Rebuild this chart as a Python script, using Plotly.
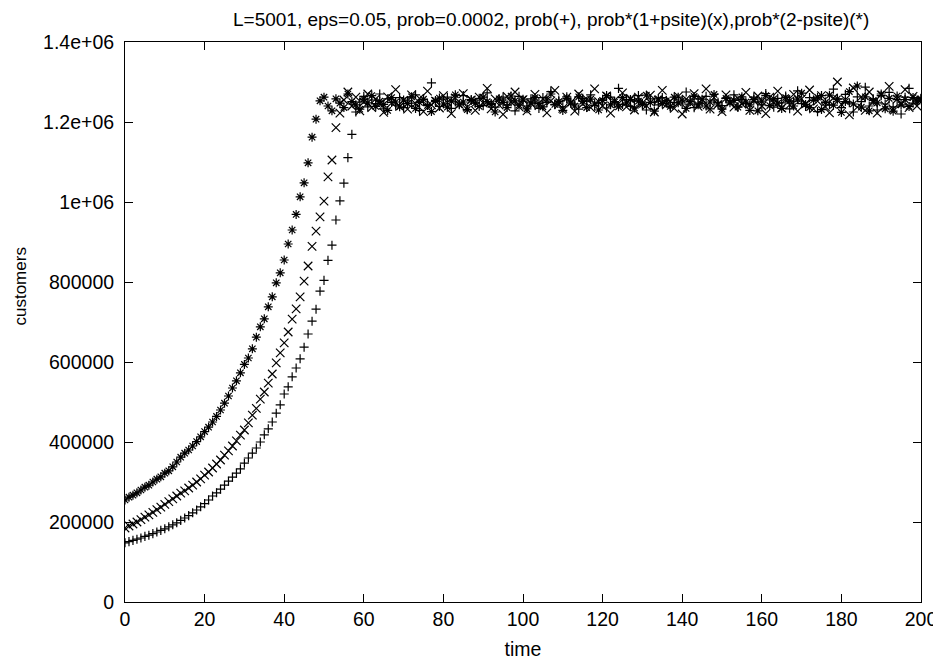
import plotly.graph_objects as go

# time axis (one sample per time unit)
time = list(range(0, 201))

# customers, in thousands
# prob(+)
plus_k = [148, 151, 154, 157, 160, 164, 167, 171, 175, 179,
          183, 188, 193, 198, 204, 210, 216, 223, 230, 238,
          246, 255, 265, 273, 282, 292, 302, 312, 322, 333,
          347, 360, 372, 385, 400, 418, 433, 450, 472, 493,
          520, 538, 563, 585, 608, 637, 670, 702, 732, 777,
          804, 854, 892, 955, 1003, 1047, 1111, 1169, 1225,
          1250, 1264, 1238, 1255, 1246, 1270, 1233, 1258, 1249, 1242,
          1261, 1236, 1253, 1247, 1268, 1229, 1256, 1244, 1298, 1251,
          1239, 1257, 1262, 1234, 1250, 1245, 1266, 1231, 1254, 1248,
          1259, 1241, 1273, 1246, 1237, 1255, 1262, 1243, 1250, 1228,
          1264, 1252, 1240, 1258, 1247, 1234, 1261, 1249, 1276, 1243,
          1255, 1238, 1263, 1250, 1245, 1232, 1259, 1252, 1268, 1241,
          1248, 1257, 1235, 1262, 1251, 1284, 1244, 1256, 1239, 1253,
          1266, 1247, 1230, 1258, 1250, 1243, 1261, 1254, 1237, 1249,
          1262, 1245, 1275, 1251, 1236, 1258, 1247, 1264, 1233, 1255,
          1249, 1241, 1260, 1253, 1268, 1238, 1256, 1246, 1229, 1262,
          1250, 1243, 1271, 1255, 1237, 1259, 1248, 1265, 1233, 1252,
          1278, 1246, 1239, 1261, 1254, 1226, 1266, 1250, 1243, 1282,
          1257, 1236, 1269, 1248, 1225, 1263, 1251, 1287, 1240, 1258,
          1230, 1266, 1245, 1274, 1238, 1256, 1220, 1262, 1284, 1247,
          1253, 1259]

# prob*(1+psite)(x)
cross_k = [185, 190, 195, 200, 206, 212, 218, 224, 231, 237,
           244, 251, 258, 265, 272, 278, 285, 292, 300, 308,
           317, 325, 335, 345, 355, 367, 378, 390, 403, 417,
           430, 448, 467, 484, 507, 525, 547, 570, 598, 623,
           648, 675, 707, 733, 763, 802, 840, 889, 927, 963,
           1002, 1063, 1105, 1186, 1222,
           1255, 1275, 1240, 1262, 1228, 1250, 1270, 1236, 1258, 1245,
           1224, 1263, 1248, 1281, 1239, 1254, 1232, 1268, 1246, 1259,
           1226, 1277, 1243, 1252, 1235, 1266, 1249, 1221, 1260, 1244,
           1271, 1237, 1255, 1229, 1262, 1247, 1284, 1233, 1258, 1242,
           1219, 1264, 1250, 1275, 1238, 1256, 1228, 1246, 1269, 1241,
           1258, 1223, 1253, 1279, 1244, 1234, 1262, 1249, 1227, 1270,
           1245, 1257, 1236, 1283, 1251, 1240, 1265, 1222, 1254, 1246,
           1273, 1238, 1259, 1230, 1262, 1248, 1241, 1267, 1225, 1255,
           1279, 1243, 1252, 1234, 1264, 1220, 1257, 1247, 1271, 1239,
           1256, 1283, 1232, 1261, 1244, 1226, 1268, 1250, 1237, 1259,
           1245, 1274, 1229, 1253, 1265, 1240, 1221, 1262, 1248, 1277,
           1235, 1256, 1243, 1269, 1227, 1258, 1246, 1280, 1233, 1252,
           1266, 1238, 1223, 1260, 1300, 1244, 1256, 1218, 1285, 1237,
           1263, 1229, 1275, 1250, 1222, 1268, 1241, 1289, 1232, 1257,
           1246, 1281, 1236, 1264, 1240, 1255]

# prob*(2-psite)(*)
star_k = [255, 262, 267, 273, 280, 287, 292, 300, 307, 313,
          322, 328, 338, 350, 362, 372, 380, 390, 401, 413,
          426, 437, 450, 464, 480, 497, 515, 535, 553, 573,
          594, 610, 633, 662, 688, 708, 738, 763, 798, 823,
          855, 895, 930, 969, 1013, 1048, 1098, 1162, 1207,
          1253, 1262, 1240, 1228, 1258, 1247, 1236, 1270, 1251, 1243,
          1232, 1257, 1248, 1266, 1239, 1252, 1244, 1229, 1261, 1250,
          1238, 1255, 1246, 1263, 1234, 1249, 1257, 1241, 1226, 1254,
          1260, 1245, 1237, 1252, 1268, 1243, 1250, 1231, 1256, 1247,
          1239, 1262, 1251, 1244, 1225, 1258, 1249, 1236, 1265, 1253,
          1242, 1257, 1233, 1248, 1261, 1246, 1238, 1255, 1270, 1244,
          1251, 1229, 1259, 1247, 1240, 1263, 1252, 1236, 1257, 1245,
          1230, 1254, 1266, 1243, 1250, 1238, 1261, 1248, 1256, 1235,
          1252, 1244, 1267, 1249, 1227, 1258, 1246, 1253, 1239, 1262,
          1248, 1255, 1234, 1251, 1264, 1243, 1257, 1240, 1250, 1269,
          1245, 1232, 1259, 1248, 1254, 1237, 1263, 1250, 1243, 1256,
          1228, 1252, 1266, 1241, 1258, 1247, 1234, 1261, 1253, 1240,
          1257, 1272, 1244, 1236, 1255, 1262, 1231, 1249, 1267, 1242,
          1258, 1224, 1251, 1276, 1245, 1290, 1237, 1263, 1228, 1254,
          1248, 1270, 1233, 1259, 1227, 1265, 1243, 1256, 1239, 1261,
          1252, 1258]

x_ticks = [0, 20, 40, 60, 80, 100, 120, 140, 160, 180, 200]
y_ticks = [0, 200000, 400000, 600000, 800000, 1000000, 1200000, 1400000]
y_tick_labels = ["0", "200000", "400000", "600000", "800000", "1e+06", "1.2e+06", "1.4e+06"]

title_text = "L=5001, eps=0.05, prob=0.0002, prob(+), prob*(1+psite)(x),prob*(2-psite)(*)"

FONT = "Liberation Sans, Arial, sans-serif"
W, H = 941, 660
OFF = 8  # page body margin offset of the figure

fig = go.Figure()
series = [
    ("prob(+)", plus_k, "cross-thin", 6.5),
    ("prob*(1+psite)(x)", cross_k, "x-thin", 8.5),
    ("prob*(2-psite)(*)", star_k, "asterisk", 7.5),
]
for name, vals, sym, size in series:
    fig.add_trace(go.Scatter(
        x=time, y=[v * 1000 for v in vals], mode="markers", name=name,
        marker=dict(symbol=sym, size=size, color="black",
                    line=dict(color="black", width=1.2)),
        showlegend=False,
    ))

axis_common = dict(
    showline=True, linecolor="black", linewidth=1, mirror="ticks",
    ticks="inside", ticklen=8, tickcolor="black", tickwidth=1,
    showgrid=False, zeroline=False,
    tickfont=dict(family=FONT, size=19.5, color="black"),
)

fig.update_layout(
    width=W, height=H,
    margin=dict(l=125 - OFF, r=W - (925 - OFF), t=42 - OFF, b=H - (602 - OFF), pad=0),
    paper_bgcolor="white", plot_bgcolor="white",
    xaxis=dict(range=[0, 200], tickvals=x_ticks,
               title=dict(text="time", standoff=12,
                          font=dict(family=FONT, size=19.5, color="black")),
               **axis_common),
    yaxis=dict(range=[0, 1400000], tickvals=y_ticks, ticktext=y_tick_labels,
               ticklabelstandoff=6, **axis_common),
    annotations=[
        dict(text=title_text, xref="paper", yref="paper", showarrow=False,
             x=(232 - 125) / 800, xanchor="left",
             y=1 + (42 - 20) / 560, yanchor="middle",
             font=dict(family=FONT, size=19, color="black")),
        dict(text="customers", xref="paper", yref="paper", showarrow=False,
             textangle=-90,
             x=-(125 - 19) / 800, xanchor="center",
             y=(602 - 287) / 560, yanchor="middle",
             font=dict(family=FONT, size=17, color="black")),
    ],
)

fig.write_html("out.html")
